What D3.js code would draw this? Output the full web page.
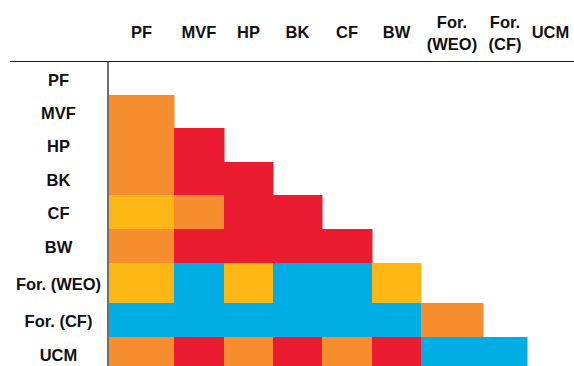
<!DOCTYPE html>
<html><head><meta charset="utf-8">
<script src="https://cdn.jsdelivr.net/npm/d3@7"></script>
<style>html,body{margin:0;padding:0;background:#fff;}svg{display:block;}</style>
</head><body><div id="chart"></div>
<script>
// ---- data ----
const categories = ["PF","MVF","HP","BK","CF","BW","For. (WEO)","For. (CF)","UCM"];
const colLabels = [["PF"],["MVF"],["HP"],["BK"],["CF"],["BW"],["For.","(WEO)"],["For.","(CF)"],["UCM"]];
// result codes (lower triangle, row vs column): Y=yellow, O=orange, R=red, B=blue
const rowMVF  = ["O"];
const rowHP   = ["O","R"];
const rowBK   = ["O","R","R"];
const rowCF   = ["Y","O","R","R"];
const rowBW   = ["O","R","R","R","R"];
const rowWEO  = ["Y","B","Y","B","B","Y"];
const rowFCF  = ["B","B","B","B","B","B","O"];
const rowUCM  = ["O","R","O","R","O","R","B","B"];
const codes = ["Y","O","R","B"];
const palette = ["#FDB715","#F68D2E","#EB1C2F","#00AEE5"];

// ---- layout ----
const W = 574, H = 366;
const colEdges = [109,174,224,273,322,372,421,483,527,574];
const rowEdges = [62,95,128,162,195,229,263,303,337,370];
const fs = 16.5;

const rows = [[], rowMVF, rowHP, rowBK, rowCF, rowBW, rowWEO, rowFCF, rowUCM];
const cells = [];
rows.forEach((r,i)=> r.forEach((c,j)=> cells.push({row:categories[i], col:categories[j], code:c})));

const x0 = d3.scaleOrdinal().domain(categories).range(colEdges.slice(0,-1));
const x1 = d3.scaleOrdinal().domain(categories).range(colEdges.slice(1));
const y0 = d3.scaleOrdinal().domain(categories).range(rowEdges.slice(0,-1));
const y1 = d3.scaleOrdinal().domain(categories).range(rowEdges.slice(1));
const color = d3.scaleOrdinal().domain(codes).range(palette);

const svg = d3.select("#chart").append("svg").attr("width",W).attr("height",H);

svg.append("g").selectAll("rect").data(cells).join("rect")
  .attr("x", d=>x0(d.col)).attr("y", d=>y0(d.row))
  .attr("width", d=>x1(d.col)-x0(d.col)+0.5)
  .attr("height", d=>y1(d.row)-y0(d.row)+0.5)
  .attr("fill", d=>color(d.code));

// column labels
const cg = svg.append("g").attr("font-family","'Liberation Sans', Arial, sans-serif")
  .attr("font-weight","bold").attr("font-size",fs).attr("fill","#111").attr("text-anchor","middle");
categories.forEach((c,i)=>{
  const cx = (x0(c)+x1(c))/2;
  const lines = colLabels[i];
  const t = cg.append("text").attr("x",cx);
  if(lines.length===1){
    t.attr("y",38.3).text(lines[0]);
  } else {
    lines.forEach((l,k)=> t.append("tspan").attr("x",cx).attr("y",27.5+k*22.5).text(l));
  }
});

// row labels
const rg = svg.append("g").attr("font-family","'Liberation Sans', Arial, sans-serif")
  .attr("font-weight","bold").attr("font-size",fs).attr("fill","#111").attr("text-anchor","middle");
categories.forEach(c=>{
  rg.append("text").attr("x",58.5).attr("y",(y0(c)+Math.min(y1(c),H+4))/2+7.3).text(c);
});

// axis lines
svg.append("line").attr("x1",10).attr("x2",W).attr("y1",61.5).attr("y2",61.5)
  .attr("stroke","#231f20").attr("stroke-width",1.2);
svg.append("line").attr("x1",108).attr("x2",108).attr("y1",61.5).attr("y2",H)
  .attr("stroke","#231f20").attr("stroke-width",1.3);
</script></body></html>
